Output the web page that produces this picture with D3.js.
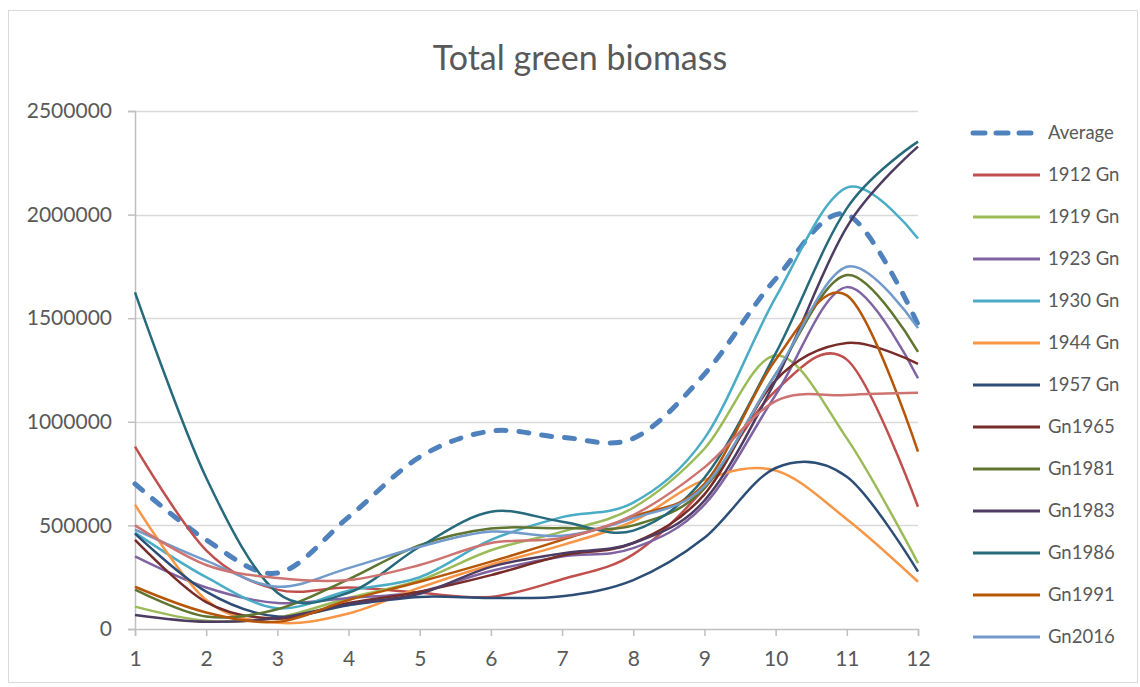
<!DOCTYPE html>
<html>
<head>
<meta charset="utf-8">
<script src="https://cdn.jsdelivr.net/npm/d3@7"></script>
<style>
  html, body { margin: 0; padding: 0; background: #ffffff; }
  svg { display: block; }
  text { font-family: Lato, "Open Sans", sans-serif; fill: #595959; }
</style>
</head>
<body>
<svg id="chart" width="1140" height="687"></svg>
<script>
// Months along the x axis
const months = [1, 2, 3, 4, 5, 6, 7, 8, 9, 10, 11, 12];

// Y axis tick values
const yTicks = [0, 500000, 1000000, 1500000, 2000000, 2500000];

// Series names, in plotting/legend order
const seriesNames = ["Average", "1912 Gn", "1919 Gn", "1923 Gn", "1930 Gn", "1944 Gn", "1957 Gn",
  "Gn1965", "Gn1981", "Gn1983", "Gn1986", "Gn1991", "Gn2016", "Series14"];

// Total green biomass per month for each series
const average = [700000, 430000, 270000, 540000, 830000, 955000, 925000, 920000, 1230000, 1690000, 2000000, 1470000];
const gn1912 = [880000, 380000, 190000, 200000, 175000, 155000, 240000, 360000, 680000, 1150000, 1300000, 590000];
const gn1919 = [108000, 40000, 55000, 150000, 235000, 380000, 470000, 585000, 870000, 1320000, 920000, 318000];
const gn1923 = [350000, 200000, 125000, 150000, 180000, 280000, 350000, 390000, 600000, 1130000, 1650000, 1210000];
const gn1930 = [465000, 250000, 100000, 185000, 250000, 430000, 540000, 610000, 920000, 1600000, 2130000, 1885000];
const gn1944 = [600000, 140000, 30000, 75000, 200000, 310000, 405000, 520000, 720000, 765000, 530000, 228000];
const gn1957 = [460000, 180000, 60000, 115000, 155000, 150000, 158000, 236000, 440000, 777000, 735000, 277000];
const gn1965 = [430000, 130000, 50000, 125000, 180000, 260000, 355000, 415000, 650000, 1200000, 1380000, 1280000];
const gn1981 = [190000, 60000, 95000, 240000, 405000, 485000, 487000, 500000, 680000, 1230000, 1708000, 1338000];
const gn1983 = [68000, 35000, 53000, 120000, 170000, 300000, 365000, 415000, 620000, 1200000, 1940000, 2328000];
const gn1986 = [1625000, 730000, 175000, 175000, 397000, 566000, 518000, 475000, 730000, 1330000, 2030000, 2352000];
const gn1991 = [204000, 80000, 35000, 140000, 228000, 325000, 430000, 542000, 700000, 1300000, 1610000, 856000];
const gn2016 = [480000, 330000, 204000, 294000, 397000, 470000, 450000, 535000, 690000, 1230000, 1748000, 1452000];
const series14 = [500000, 309000, 246000, 236000, 309000, 415000, 439000, 550000, 780000, 1100000, 1129000, 1140000];

const seriesValues = [average, gn1912, gn1919, gn1923, gn1930, gn1944, gn1957,
  gn1965, gn1981, gn1983, gn1986, gn1991, gn2016, series14];

// Line colours, one per series
const seriesColors = ["#4F81BD", "#C0504D", "#9BBB59", "#8064A2", "#4BACC6", "#F79646", "#2C4D75",
  "#772C2A", "#5F7530", "#4D3B62", "#276A7C", "#B65708", "#729ACA", "#CD7371"];

const series = seriesNames.map((name, i) => ({
  name,
  color: seriesColors[i],
  dashed: i === 0,
  points: months.map((m, j) => ({ x: m, y: seriesValues[i][j] }))
}));

const svg = d3.select("#chart");

// Chart frame
const frame = { x: 8.5, y: 10.5, w: 1129, h: 672 };
svg.append("rect")
  .attr("x", frame.x).attr("y", frame.y)
  .attr("width", frame.w).attr("height", frame.h)
  .attr("fill", "#ffffff").attr("stroke", "#d9d9d9").attr("stroke-width", 1);

// Plot area
const plot = { left: 135, right: 918, top: 111, bottom: 629 };
const x = d3.scaleLinear().domain([1, 12]).range([plot.left, plot.right]);
const y = d3.scaleLinear().domain([0, 2500000]).range([plot.bottom, plot.top]);

// Title
svg.append("text")
  .attr("x", 580).attr("y", 70)
  .attr("text-anchor", "middle")
  .style("font-size", "34px")
  .text("Total green biomass");

// Horizontal gridlines
svg.append("g")
  .selectAll("line")
  .data(yTicks.filter(t => t > 0))
  .join("line")
  .attr("x1", plot.left).attr("x2", plot.right)
  .attr("y1", d => Math.round(y(d)) + 0.5).attr("y2", d => Math.round(y(d)) + 0.5)
  .attr("stroke", "#d9d9d9").attr("stroke-width", 1.5);

// Y axis
const yAxis = svg.append("g")
  .attr("transform", `translate(${plot.left},0)`)
  .call(d3.axisLeft(y).tickValues(yTicks).tickFormat(d3.format("d")).tickSize(7).tickPadding(16));
yAxis.select(".domain").attr("stroke", "#bfbfbf").attr("stroke-width", 1.5);
yAxis.selectAll(".tick line").attr("stroke", "#bfbfbf").attr("stroke-width", 1.5);
yAxis.selectAll(".tick text")
  .style("font-size", "21px").style("font-family", "Lato, sans-serif").attr("fill", "#595959");

// X axis
const xAxis = svg.append("g")
  .attr("transform", `translate(0,${plot.bottom})`)
  .call(d3.axisBottom(x).tickValues(months).tickFormat(d3.format("d")).tickSize(7).tickPadding(15));
xAxis.select(".domain").attr("stroke", "#bfbfbf").attr("stroke-width", 1.5);
xAxis.selectAll(".tick line").attr("stroke", "#bfbfbf").attr("stroke-width", 1.5);
xAxis.selectAll(".tick text")
  .style("font-size", "21px").style("font-family", "Lato, sans-serif").attr("fill", "#595959");

// Smoothed lines
const line = d3.line()
  .x(d => x(d.x))
  .y(d => y(d.y))
  .curve(d3.curveCardinal.tension(0));

svg.append("g")
  .selectAll("path")
  .data(series)
  .join("path")
  .attr("d", d => line(d.points))
  .attr("fill", "none")
  .attr("stroke", d => d.color)
  .attr("stroke-width", d => d.dashed ? 5 : 2.5)
  .attr("stroke-dasharray", d => d.dashed ? "10,13" : null)
  .attr("stroke-linecap", d => d.dashed ? "round" : "butt")
  .attr("stroke-linejoin", "round");

// Legend: entries that do not fit inside the frame are left out
const legend = { x1: 973, x2: 1040, textX: 1048, top: 133, step: 42 };
const legendLimit = frame.y + frame.h - 12;
const legendItems = series
  .map((s, i) => ({ ...s, cy: legend.top + i * legend.step }))
  .filter(s => s.cy + 8 < legendLimit);

const lg = svg.append("g")
  .selectAll("g")
  .data(legendItems)
  .join("g")
  .attr("transform", d => `translate(0,${d.cy})`);

lg.append("line")
  .attr("x1", legend.x1).attr("x2", legend.x2)
  .attr("y1", 0).attr("y2", 0)
  .attr("stroke", d => d.color)
  .attr("stroke-width", d => d.dashed ? 5 : 3)
  .attr("stroke-dasharray", d => d.dashed ? "12,11" : null)
  .attr("stroke-linecap", d => d.dashed ? "round" : "butt");

lg.append("text")
  .attr("x", legend.textX).attr("y", 0)
  .attr("dy", "0.35em")
  .style("font-size", "18.5px")
  .text(d => d.name);
</script>
</body>
</html>
